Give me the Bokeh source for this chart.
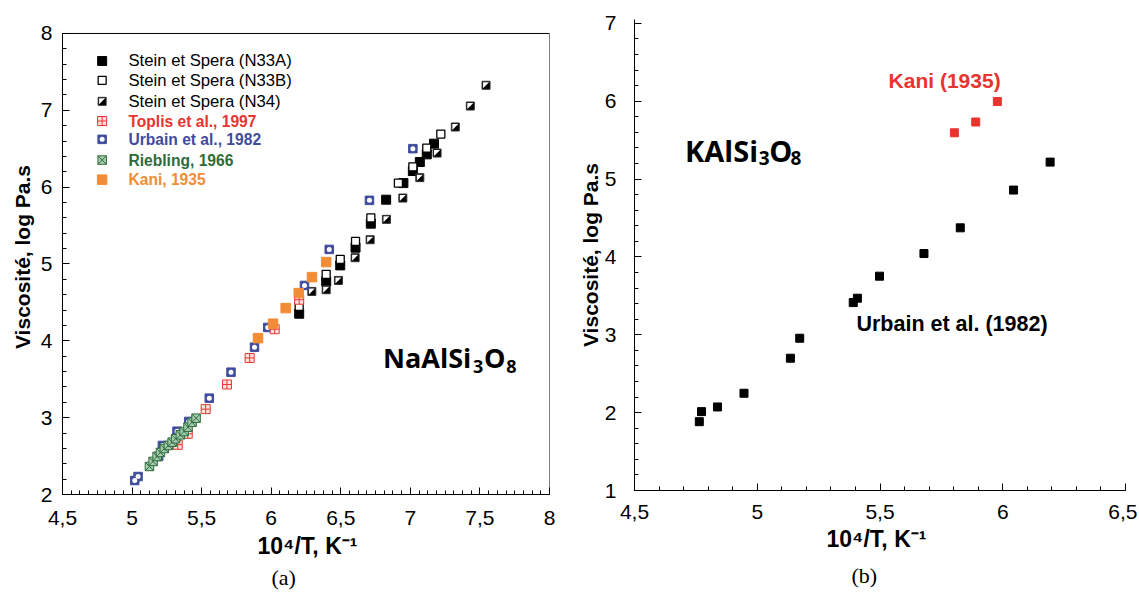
import numpy as np
from bokeh.plotting import figure
from bokeh.layouts import row, column
from bokeh.models import FixedTicker, CustomJSTickFormatter, Range1d, Title
from bokeh.core.properties import value
from bokeh.embed import file_html
from bokeh.resources import INLINE

# ---------------- (a) NaAlSi3O8 ----------------
n33a_x = [6.201, 6.395, 6.496, 6.606, 6.716, 6.826, 6.950, 7.018, 7.068, 7.118, 7.170]
n33a_y = [4.353, 4.773, 4.982, 5.212, 5.525, 5.837, 6.053, 6.210, 6.327, 6.427, 6.566]
n33b_x = [6.201, 6.395, 6.496, 6.606, 6.716, 6.914, 7.018, 7.118, 7.219]
n33b_y = [4.448, 4.865, 5.060, 5.294, 5.600, 6.053, 6.264, 6.509, 6.691]
n34_x = [6.292, 6.395, 6.483, 6.603, 6.711, 6.828, 6.946, 7.068, 7.192, 7.323, 7.431, 7.544]
n34_y = [4.643, 4.665, 4.786, 5.082, 5.316, 5.581, 5.858, 6.124, 6.444, 6.783, 7.056, 7.326]
toplis_x = [5.328, 5.400, 5.529, 5.682, 5.845, 6.025, 6.201]
toplis_y = [2.647, 2.790, 3.111, 3.432, 3.777, 4.151, 4.535]
urbain_x = [5.019, 5.043, 5.191, 5.218, 5.323, 5.407, 5.555, 5.711, 5.880, 5.975, 6.239, 6.417, 6.706, 7.018]
urbain_y = [2.182, 2.234, 2.495, 2.638, 2.824, 2.951, 3.254, 3.592, 3.918, 4.174, 4.721, 5.190, 5.828, 6.501]
riebling_x = [5.125, 5.151, 5.180, 5.204, 5.232, 5.261, 5.288, 5.313, 5.347, 5.374, 5.402, 5.431, 5.460]
riebling_y = [2.365, 2.430, 2.495, 2.547, 2.599, 2.638, 2.681, 2.725, 2.777, 2.820, 2.876, 2.941, 2.993]
kani_a_x = [5.905, 6.013, 6.104, 6.198, 6.293, 6.395]
kani_a_y = [4.035, 4.223, 4.426, 4.621, 4.829, 5.025]

legend_labels = ["Stein et Spera (N33A)", "Stein et Spera (N33B)", "Stein et Spera (N34)",
                 "Toplis et al., 1997", "Urbain et al., 1982", "Riebling, 1966", "Kani, 1935"]

# ---------------- (b) KAlSi3O8 ----------------
urbain_k_x = [4.764, 4.773, 4.838, 4.946, 5.135, 5.173, 5.391, 5.408, 5.498, 5.679, 5.827, 6.044, 6.193]
urbain_k_y = [1.884, 2.013, 2.073, 2.249, 2.699, 2.956, 3.414, 3.470, 3.753, 4.044, 4.374, 4.859, 5.218]
kani_k_x = [5.803, 5.890, 5.978]
kani_k_y = [5.595, 5.733, 5.997]

x_ticks_a = [4.5, 5, 5.5, 6, 6.5, 7, 7.5, 8]
y_ticks_a = [2, 3, 4, 5, 6, 7, 8]
x_ticks_b = [4.5, 5, 5.5, 6, 6.5]
y_ticks_b = [1, 2, 3, 4, 5, 6, 7]

X_TITLE = "10\u2074/T, K\u207b\u00b9"
Y_TITLE = "Viscosité, log Pa.s"

RED = "#e8342f"
BLUE = "#3f4c9e"
GREEN = "#2d6b3a"
ORANGE = "#f28c35"
FONT = "Liberation Sans"
SERIF = "Liberation Serif"

fmt = CustomJSTickFormatter(code="""
return (Math.abs(tick - Math.round(tick)) < 1e-9) ? tick.toFixed(0) : tick.toFixed(1).replace('.', ',');
""")


def style_axes(p, ylabel):
    p.grid.visible = False
    p.background_fill_color = "white"
    p.border_fill_color = "white"
    for ax in (p.xaxis[0], p.yaxis[0]):
        ax.axis_line_color = "black"
        ax.major_tick_line_color = "black"
        ax.minor_tick_line_color = "black"
        ax.major_tick_in = 7
        ax.major_tick_out = 0
        ax.minor_tick_in = 4
        ax.minor_tick_out = 0
        ax.major_label_text_font = FONT
        ax.major_label_text_font_size = "21px"
        ax.major_label_text_color = "black"
        ax.axis_label_text_font = FONT
        ax.axis_label_text_font_style = "bold"
        ax.axis_label_text_font_size = "21px"
        ax.axis_label_text_color = "black"
        ax.formatter = fmt
    p.yaxis.axis_label = ylabel


def bottom_titles(p, title_offset, title_standoff, cap_text, cap_offset, cap_standoff):
    p.add_layout(Title(text=X_TITLE, align="left", offset=title_offset, standoff=title_standoff,
                       text_font=FONT, text_font_style="bold", text_font_size="23px",
                       text_color="black"), "below")
    p.add_layout(Title(text=cap_text, align="left", offset=cap_offset, standoff=cap_standoff,
                       text_font=SERIF, text_font_style="normal", text_font_size="22px",
                       text_color="black"), "below")


# ================= Figure (a) =================
pa = figure(width=575, height=597, x_range=Range1d(4.5, 8), y_range=Range1d(2, 8.182),
            output_backend="svg", toolbar_location=None,
            min_border_left=62, min_border_right=26, min_border_top=19, min_border_bottom=103)
style_axes(pa, Y_TITLE)
pa.outline_line_color = None
pa.yaxis.bounds = (2, 8)
pa.xaxis.ticker = FixedTicker(ticks=x_ticks_a, minor_ticks=list(np.arange(4.5, 8.0001, 0.0625)))
pa.yaxis.ticker = FixedTicker(ticks=y_ticks_a, minor_ticks=list(np.arange(2, 8.0001, 0.2)))
pa.xaxis.major_label_standoff = 16
pa.yaxis.major_label_standoff = 10
pa.yaxis.axis_label_standoff = 4
# box: top and right edges of the frame at y=8 / x=8
pa.segment(x0=[4.5, 8], y0=[8, 2], x1=[8, 8], y1=[8, 8], line_color="black", line_width=1)

pxu_x = 487 / 3.5
pxu_y = 475 / 6.182


def half_tri(xs, ys, half=3.0):
    hx = half / pxu_x
    hy = half / pxu_y
    return ([[x - hx, x + hx, x - hx] for x in xs],
            [[y + hy, y + hy, y - hy] for y in ys])


def draw_n33a(p, xs, ys):
    p.scatter(xs, ys, marker="square", size=9, fill_color="black", line_color="black")


def draw_n33b(p, xs, ys):
    p.scatter(xs, ys, marker="square", size=8, fill_color="white", line_color="black", line_width=1.3)


def draw_n34(p, xs, ys):
    p.scatter(xs, ys, marker="square", size=8, fill_color="black", line_color="#333333")
    tx, ty = half_tri(xs, ys)
    p.patches(tx, ty, fill_color="white", line_color=None)


def draw_urbain(p, xs, ys):
    p.scatter(xs, ys, marker="square", size=8.5, fill_color=BLUE, line_color=BLUE)
    p.scatter(xs, ys, marker="circle", size=5, fill_color="white", line_color=None)


def draw_toplis(p, xs, ys):
    p.scatter(xs, ys, marker="square_cross", size=9, fill_color="#fde2e0", line_color=RED, line_width=1)


def draw_riebling(p, xs, ys):
    p.scatter(xs, ys, marker="square_x", size=8.5, fill_color="#a9cdb0", line_color=GREEN, line_width=1)


def draw_kani(p, xs, ys):
    p.scatter(xs, ys, marker="square", size=9.5, fill_color=ORANGE, line_color=ORANGE)


draw_n33a(pa, n33a_x, n33a_y)
draw_n33b(pa, n33b_x, n33b_y)
draw_n34(pa, n34_x, n34_y)
draw_urbain(pa, urbain_x, urbain_y)
draw_toplis(pa, toplis_x, toplis_y)
draw_kani(pa, kani_a_x, kani_a_y)
draw_riebling(pa, riebling_x, riebling_y)

# legend (manual)
leg_mx = 4.785
leg_tx = 4.974
leg_y = [7.642, 7.391, 7.117, 6.861, 6.622, 6.353, 6.098]
drawers = [draw_n33a, draw_n33b, draw_n34, draw_toplis, draw_urbain, draw_riebling, draw_kani]
leg_colors = ["black", "black", "black", RED, BLUE, GREEN, ORANGE]
for i, (lab, dr, col) in enumerate(zip(legend_labels, drawers, leg_colors)):
    dr(pa, [leg_mx], [leg_y[i]])
    bold = i >= 3
    pa.text([leg_tx], [leg_y[i]], text=[lab], text_color=col,
            text_font=value(FONT), text_font_style="bold" if bold else "normal",
            text_font_size="15.6px" if bold else "16.7px",
            text_align="left", text_baseline="middle")

# formula NaAlSi3O8
ff = value("Open Sans")
pa.text([6.804], [3.784], text=["NaAlSi"], text_font=ff, text_font_style="bold",
        text_font_size="27px", text_align="left", text_baseline="alphabetic", text_color="black")
pa.text([7.45], [3.667], text=["3"], text_font=ff, text_font_style="bold",
        text_font_size="18px", text_align="left", text_baseline="alphabetic", text_color="black")
pa.text([7.53], [3.784], text=["O"], text_font=ff, text_font_style="bold",
        text_font_size="27px", text_align="left", text_baseline="alphabetic", text_color="black")
pa.text([7.69], [3.667], text=["8"], text_font=ff, text_font_style="bold",
        text_font_size="18px", text_align="left", text_baseline="alphabetic", text_color="black")

bottom_titles(pa, 195, 7, "(a)", 209, 1)

# ================= Figure (b) =================
pb = figure(width=562, height=597, x_range=Range1d(4.5, 6.5), y_range=Range1d(1, 7.05),
            output_backend="svg", toolbar_location=None,
            min_border_left=58, min_border_right=12, min_border_top=19, min_border_bottom=107)
style_axes(pb, Y_TITLE)
pb.outline_line_color = None
pb.xaxis.ticker = FixedTicker(ticks=x_ticks_b, minor_ticks=list(np.arange(4.5, 6.5001, 0.1)))
pb.yaxis.ticker = FixedTicker(ticks=y_ticks_b, minor_ticks=list(np.arange(1, 7.0001, 0.2)))
pb.xaxis.major_label_standoff = 14
pb.yaxis.major_label_standoff = 18
pb.yaxis.axis_label_standoff = 0

pb.scatter(urbain_k_x, urbain_k_y, marker="square", size=8, fill_color="black", line_color="black")
pb.scatter(kani_k_x, kani_k_y, marker="square", size=8, fill_color=RED, line_color=RED)

pb.text([5.535], [6.263], text=["Kani (1935)"], text_color=RED, text_font=value(FONT),
        text_font_style="bold", text_font_size="21px", text_align="left", text_baseline="middle")
pb.text([5.404], [3.144], text=["Urbain et al. (1982)"], text_color="black", text_font=value(FONT),
        text_font_style="bold", text_font_size="21.5px", text_align="left", text_baseline="middle")

pb.text([4.706], [5.373], text=["KAlSi"], text_font=ff, text_font_style="bold",
        text_font_size="29px", text_align="left", text_baseline="alphabetic", text_color="black")
pb.text([5.006], [5.265], text=["3"], text_font=ff, text_font_style="bold",
        text_font_size="19px", text_align="left", text_baseline="alphabetic", text_color="black")
pb.text([5.049], [5.373], text=["O"], text_font=ff, text_font_style="bold",
        text_font_size="29px", text_align="left", text_baseline="alphabetic", text_color="black")
pb.text([5.135], [5.265], text=["8"], text_font=ff, text_font_style="bold",
        text_font_size="19px", text_align="left", text_baseline="alphabetic", text_color="black")

bottom_titles(pb, 192, 5, "(b)", 217, 12)

layout = row(column(pa), column(pb))
open("out.html", "w").write(file_html(layout, INLINE))
